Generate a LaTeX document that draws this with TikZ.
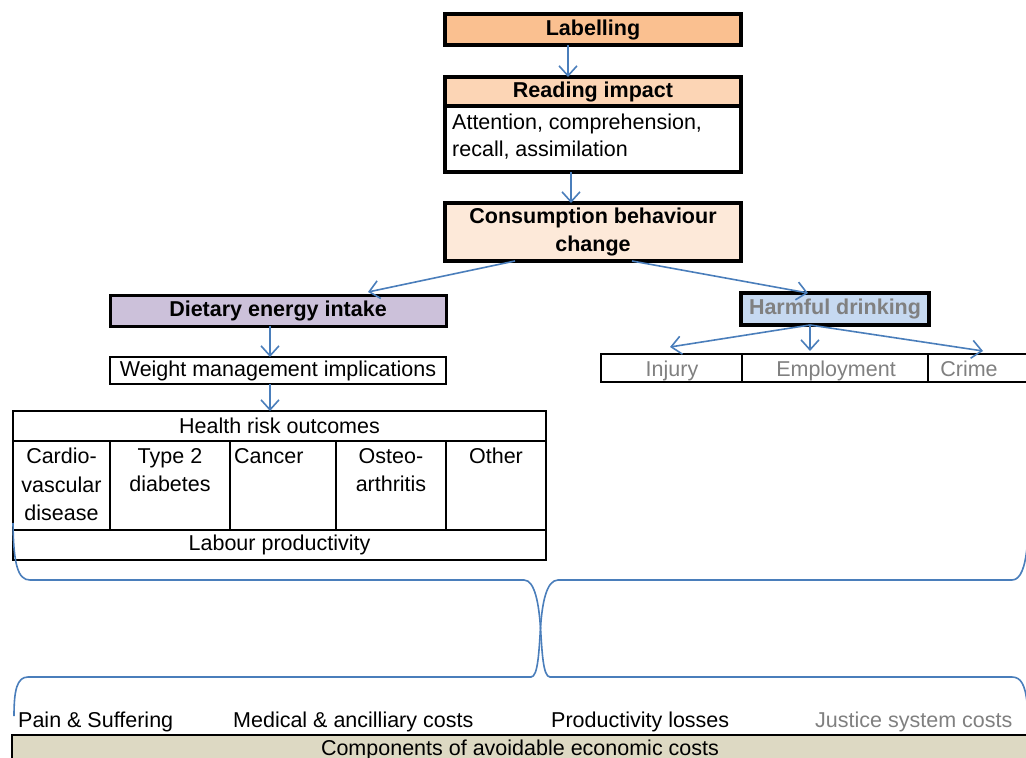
\documentclass[tikz,border=0pt]{standalone}
\usepackage{fontspec}
\setmainfont{Liberation Sans}
\usetikzlibrary{arrows.meta,calc}
\definecolor{bl}{HTML}{4A7EBB}
\definecolor{labc}{HTML}{FAC090}
\definecolor{readc}{HTML}{FCD5B5}
\definecolor{consc}{HTML}{FDE9D9}
\definecolor{dietc}{HTML}{CCC1DA}
\definecolor{harmc}{HTML}{C6D9F1}
\definecolor{compc}{HTML}{DDD9C3}
\definecolor{gr}{HTML}{808080}
\newcommand\fs{\fontsize{21.5}{28.5}\selectfont}
\begin{document}
\begin{tikzpicture}[x=1pt,y=-1pt,
  every node/.style={font=\fs, inner sep=0pt},
  bx/.style 2 args={anchor=north west, outer sep=0pt, minimum width=#1pt, minimum height=#2pt},
  hbox/.style={draw, line width=4pt},
  tcell/.style={draw, line width=2.5pt},
  arr/.style={draw=bl, line width=1.6pt, -{Straight Barb[length=10pt,width=18pt]}},
  brace/.style={draw=bl, line width=1.6pt},
  gtext/.style={text=gr}]
\useasboundingbox (0,0) rectangle (1026,758);
\fill[white] (0,0) rectangle (1026,758);
\clip (0,0) rectangle (1026,758);

% top chain
\node[hbox, fill=labc, bx={296}{31}, font=\fs\bfseries] (lab) at (445,14) {Labelling};
\node[hbox, fill=readc, bx={296}{29}, font=\fs\bfseries] (read) at (445,77) {Reading impact};
\node[hbox, fill=white, bx={296}{66}] (body) at (445,106) {};
\node[anchor=north west, align=left, font=\fontsize{21.5}{27}\selectfont] (bodyt) at (452,114) {Attention, comprehension,\\recall, assimilation};
\node[hbox, fill=consc, bx={296}{58}, font=\fs\bfseries, align=center] (cons) at (445,203) {Consumption behaviour\\change};

\draw[arr] ([xshift=-25pt]lab.south) -- ([xshift=-25pt]read.north);
\draw[arr] ([xshift=-22pt]body.south) -- ([xshift=-22pt]cons.north);

% left branch
\node[draw, line width=3pt, fill=dietc, bx={336}{31}, font=\fs\bfseries] (diet) at (110,295) {Dietary energy intake};
\node[tcell, bx={336}{27}] (wm) at (110,357) {Weight management implications};
\node[tcell, bx={533}{30}] (hr) at (13,411) {Health risk outcomes};
\node[tcell, bx={97}{89}] (c1) at (13,441) {};
\node[tcell, bx={120}{89}] (c2) at (110,441) {};
\node[tcell, bx={106}{89}] (c3) at (230,441) {};
\node[tcell, bx={110}{89}] (c4) at (336,441) {};
\node[tcell, bx={100}{89}] (c5) at (446,441) {};
\node[tcell, bx={533}{30}] (lp) at (13,530) {Labour productivity};
\node[anchor=north, align=center] at ([yshift=-7pt]c1.north) {Cardio-\\vascular\\disease};
\node[anchor=north, align=center] at ([yshift=-7pt]c2.north) {Type 2\\diabetes};
\node[anchor=north west, align=left] at ([xshift=4pt,yshift=-7pt]c3.north west) {Cancer};
\node[anchor=north, align=center] at ([yshift=-7pt]c4.north) {Osteo-\\arthritis};
\node[anchor=north, align=center] at ([yshift=-7pt]c5.north) {Other};

\draw[arr] ([xshift=-78pt]cons.south) -- ([xshift=90pt,yshift=3pt]diet.north);
\draw[arr] ([xshift=-8pt]diet.south) -- ([xshift=-8pt]wm.north);
\draw[arr] ([xshift=-8pt]wm.south) -- ([xshift=-9.5pt]hr.north);

% right branch
\node[hbox, fill=harmc, bx={188}{32}, font=\fs\bfseries, text=gr] (harm) at (741,293) {Harmful drinking};
\node[tcell, bx={141}{28}] (inj) at (601,354) {};
\node[tcell, bx={186}{28}] (emp) at (742,354) {};
\node[tcell, bx={112}{28}] (cri) at (928,354) {};
\node[gtext, anchor=base] at (672,376) {Injury};
\node[gtext, anchor=base] at (836,376) {Employment};
\node[gtext, anchor=base] at (969,376) {Crime};

\draw[arr] ([xshift=39pt]cons.south) -- ([xshift=-27pt]harm.north);
\draw[arr] ([xshift=-25pt]harm.south) -- ([xshift=-1.5pt,yshift=7pt]inj.north);
\draw[arr] ([xshift=-25pt]harm.south) -- ([xshift=-25pt,yshift=3pt]emp.north);
\draw[arr] ([xshift=-25pt]harm.south) -- ([xshift=-1pt,yshift=3pt]cri.north);

% braces
\draw[brace] (13,523) .. controls (13.5,565) and (18,580) .. (30,580) -- (524,580)
  .. controls (535,580) and (539,605) .. (540.5,628)
  .. controls (542,651) and (543,677) .. (550,677) -- (1012,677)
  .. controls (1021,677) and (1025,685) .. (1027,702);
\draw[brace] (1027,548) .. controls (1025,566) and (1021,580) .. (1012,580) -- (558,580)
  .. controls (546,580) and (542,605) .. (540.5,628)
  .. controls (539,651) and (538,677) .. (531,677) -- (28,677)
  .. controls (17,677) and (14,690) .. (14,716);

% bottom
\node[anchor=base west] (ps) at (18,727) {Pain \& Suffering};
\node[anchor=base west] (mc) at (233,727) {Medical \& ancilliary costs};
\node[anchor=base west] (pl) at (551,727) {Productivity losses};
\node[anchor=base west, gtext] (js) at (815,727) {Justice system costs};
\node[draw, line width=2.5pt, fill=compc, bx={1028}{45}] (comp) at (12,735) {};
\node[anchor=base] (compt) at (520,755) {Components of avoidable economic costs};
\end{tikzpicture}
\end{document}
